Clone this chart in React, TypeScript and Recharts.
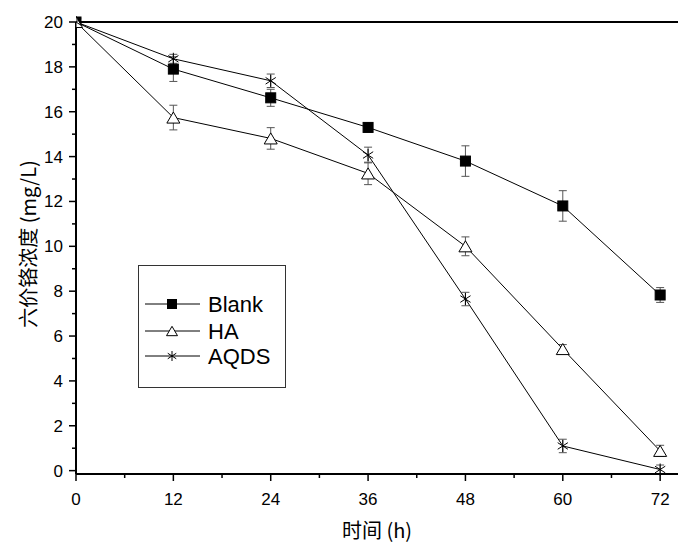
import { LineChart, Line, XAxis, YAxis, ErrorBar, ReferenceLine } from "recharts";

const hours = [0, 12, 24, 36, 48, 60, 72];
const blank = [20, 17.9, 16.62, 15.3, 13.8, 11.8, 7.83];
const blankErr = [0, 0.55, 0.38, 0.2, 0.68, 0.68, 0.33];
const ha = [20, 15.74, 14.81, 13.25, 10.0, 5.42, 0.88];
const haErr = [0, 0.55, 0.48, 0.5, 0.42, 0.2, 0.25];
const aqds = [20, 18.36, 17.38, 14.07, 7.65, 1.1, 0.05];
const aqdsErr = [0, 0.2, 0.3, 0.35, 0.3, 0.3, 0.2];

const xTicks = [0, 6, 12, 18, 24, 30, 36, 42, 48, 54, 60, 66, 72];
const yTicks = [0, 1, 2, 3, 4, 5, 6, 7, 8, 9, 10, 11, 12, 13, 14, 15, 16, 17, 18, 19, 20];

const seriesNames = ["Blank", "HA", "AQDS"];

const data = hours.map((h, i) => ({
  hour: h,
  blank: blank[i],
  blankErr: blankErr[i],
  ha: ha[i],
  haErr: haErr[i],
  aqds: aqds[i],
  aqdsErr: aqdsErr[i],
}));

const FONT = "'Liberation Sans', Arial, sans-serif";
const CJK = "'Noto Sans CJK SC', 'Liberation Sans', sans-serif";

// marker shapes
const Square = ({ cx, cy, s = 10 }: { cx: number; cy: number; s?: number }) => (
  <rect x={cx - s / 2} y={cy - s / 2} width={s} height={s} fill="#000" stroke="#000" />
);

const Triangle = ({ cx, cy, s = 13 }: { cx: number; cy: number; s?: number }) => {
  const h = s * 0.85;
  return (
    <path
      d={`M${cx},${cy - h / 2} L${cx + s / 2},${cy + h / 2} L${cx - s / 2},${cy + h / 2} Z`}
      fill="#fff"
      stroke="#000"
      strokeWidth={1}
    />
  );
};

const Star = ({ cx, cy, r = 6 }: { cx: number; cy: number; r?: number }) => {
  const dx = r * 0.85;
  const dy = r * 0.55;
  return (
    <g stroke="#000" strokeWidth={1} fill="none">
      <line x1={cx} y1={cy - r} x2={cx} y2={cy + r} />
      <line x1={cx - dx} y1={cy - dy} x2={cx + dx} y2={cy + dy} />
      <line x1={cx - dx} y1={cy + dy} x2={cx + dx} y2={cy - dy} />
    </g>
  );
};

const renderSquare = (p: any) => <Square key={`b${p.index}`} cx={p.cx} cy={p.cy} />;
const renderTriangle = (p: any) => <Triangle key={`h${p.index}`} cx={p.cx} cy={p.cy} />;
const renderStar = (p: any) => <Star key={`a${p.index}`} cx={p.cx} cy={p.cy} />;

const XTick = (props: any) => {
  const { x, y, payload } = props;
  const major = payload.value % 12 === 0;
  return (
    <g>
      <line x1={x} x2={x} y1={y} y2={y + (major ? 7 : 4)} stroke="#000" strokeWidth={1.5} />
      {major && (
        <text x={x} y={y + 31} textAnchor="middle" fontSize={17} fontFamily={FONT} fill="#000">
          {payload.value}
        </text>
      )}
    </g>
  );
};

const YTick = (props: any) => {
  const { x, y, payload } = props;
  const major = payload.value % 2 === 0;
  return (
    <g>
      <line x1={x} x2={x - (major ? 7 : 4)} y1={y} y2={y} stroke="#000" strokeWidth={1.5} />
      {major && (
        <text x={x - 13} y={y + 6} textAnchor="end" fontSize={17} fontFamily={FONT} fill="#000">
          {payload.value}
        </text>
      )}
    </g>
  );
};

const legendMarkers = [
  (cx: number, cy: number) => <Square cx={cx} cy={cy} s={9} />,
  (cx: number, cy: number) => <Triangle cx={cx} cy={cy} s={11} />,
  (cx: number, cy: number) => <Star cx={cx} cy={cy} r={5} />,
];

const legendRows = [304, 331, 356];

export default function App() {
  return (
    <div style={{ position: "absolute", left: 0, top: 0, width: 678, height: 543, background: "#fff" }}>
      <LineChart width={678} height={543} data={data} margin={{ top: 22, right: 0, bottom: 0, left: 0 }}>
        <XAxis
          type="number"
          dataKey="hour"
          domain={[0, 74.2]}
          ticks={xTicks}
          allowDataOverflow
          height={69}
          tickSize={0}
          tickMargin={0}
          tick={<XTick />}
          tickLine={false}
          axisLine={{ stroke: "#000", strokeWidth: 2 }}
          label={() => (
            <text x={377} y={538} textAnchor="middle" fontSize={20} fontFamily={CJK} fill="#000">
              时间 (h)
            </text>
          )}
        />
        <YAxis
          type="number"
          domain={[0, 20]}
          ticks={yTicks}
          width={76}
          tickSize={0}
          tickMargin={0}
          tick={<YTick />}
          tickLine={false}
          interval={0}
          axisLine={{ stroke: "#000", strokeWidth: 2 }}
          label={() => (
            <text
              x={27}
              y={244}
              transform="rotate(-90 27 244)"
              textAnchor="middle"
              dominantBaseline="central"
              fontSize={20}
              fontFamily={CJK}
              fill="#000"
            >
              六价铬浓度 (mg/L)
            </text>
          )}
        />
        <ReferenceLine y={20} stroke="#000" strokeWidth={2} />
        <Line
          type="linear"
          dataKey="blank"
          name="Blank"
          stroke="#000"
          strokeWidth={1}
          dot={renderSquare}
          activeDot={false}
          isAnimationActive={false}
        >
          <ErrorBar dataKey="blankErr" width={4} stroke="#555" strokeWidth={1} direction="y" />
        </Line>
        <Line
          type="linear"
          dataKey="ha"
          name="HA"
          stroke="#000"
          strokeWidth={1}
          dot={renderTriangle}
          activeDot={false}
          isAnimationActive={false}
        >
          <ErrorBar dataKey="haErr" width={4} stroke="#555" strokeWidth={1} direction="y" />
        </Line>
        <Line
          type="linear"
          dataKey="aqds"
          name="AQDS"
          stroke="#000"
          strokeWidth={1}
          dot={renderStar}
          activeDot={false}
          isAnimationActive={false}
        >
          <ErrorBar dataKey="aqdsErr" width={4} stroke="#555" strokeWidth={1} direction="y" />
        </Line>
      </LineChart>
      <svg style={{ position: "absolute", left: 0, top: 0 }} width={678} height={543} pointerEvents="none">
        <rect x={138.5} y={265.5} width={147} height={122} fill="#fff" stroke="#333" strokeWidth={1} />
        {seriesNames.map((name, i) => (
          <g key={name}>
            <line x1={145} x2={200} y1={legendRows[i]} y2={legendRows[i]} stroke="#000" strokeWidth={1} />
            {legendMarkers[i](172, legendRows[i])}
            <text x={208} y={legendRows[i] + 8} fontSize={22} fontFamily={FONT} fill="#000">
              {name}
            </text>
          </g>
        ))}
      </svg>
    </div>
  );
}
